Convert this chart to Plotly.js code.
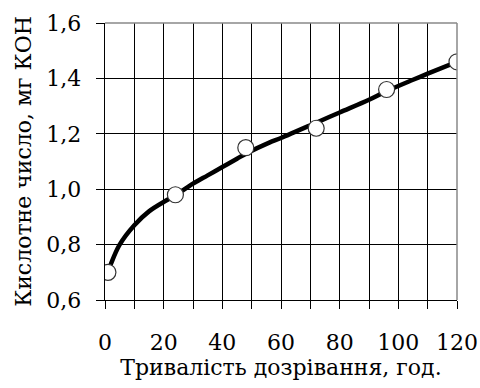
<!DOCTYPE html>
<html>
<head>
<meta charset="utf-8">
<script src="https://cdn.plot.ly/plotly-3.0.1.min.js"></script>
<style>html,body{margin:0;padding:0;background:#fff}#chart{width:480px;height:388px}</style>
</head>
<body>
<div id="chart"></div>
<script>
// measured points
var hours = [1, 24, 48, 72, 96, 120];
var acidNumber = [0.70, 0.98, 1.15, 1.22, 1.36, 1.46];
// fitted curve
var curveHours = [1, 2, 5, 10, 15, 21, 24, 30, 35, 40, 45, 48, 56, 60, 72, 80, 90, 96, 105, 110, 120];
var curveValues = [0.70, 0.73, 0.80, 0.87, 0.92, 0.96, 0.978, 1.02, 1.05, 1.08, 1.11, 1.128, 1.168, 1.185, 1.24, 1.277, 1.323, 1.354, 1.395, 1.417, 1.46];
var xTickVals = [0, 20, 40, 60, 80, 100, 120];
var yTickVals = [0.6, 0.8, 1.0, 1.2, 1.4, 1.6];
var xTitle = 'Тривалість дозрівання, год.';
var yTitle = 'Кислотне число, мг КОН';

var font = 'DejaVu Serif';
var traces = [
  {x: curveHours, y: curveValues, mode: 'lines', line: {color: '#000', width: 4.5, shape: 'spline', smoothing: 1}, hoverinfo: 'skip'},
  {x: hours, y: acidNumber, mode: 'markers', marker: {size: 16, color: '#fff', line: {color: '#333', width: 1.2}}}
];
var layout = {
  width: 480, height: 388,
  margin: {l: 105, r: 23, t: 23, b: 88},
  paper_bgcolor: '#fff', plot_bgcolor: '#fff',
  showlegend: false,
  separators: ', ',
  font: {family: font, color: '#000', size: 22},
  xaxis: {
    range: [0, 120], tickvals: xTickVals, ticktext: xTickVals.map(String),
    showgrid: true, gridcolor: '#000', gridwidth: 1,
    ticks: 'outside', ticklen: 8, tickcolor: '#000', tickwidth: 1,
    minor: {dtick: 10, tick0: 0, showgrid: true, gridcolor: '#000', gridwidth: 1, ticks: 'outside', ticklen: 8, tickcolor: '#000', tickwidth: 1},
    showline: true, linecolor: '#000', linewidth: 1.3,
    zeroline: false, ticklabelstandoff: 14,
    tickfont: {size: 22, family: font},
    title: {text: xTitle, font: {size: 22, family: font}, standoff: 4}
  },
  yaxis: {
    range: [0.6, 1.6], tickvals: yTickVals, tickformat: '.1f',
    showgrid: true, gridcolor: '#000', gridwidth: 1,
    ticks: 'outside', ticklen: 8, tickcolor: '#000', tickwidth: 1,
    showline: true, linecolor: '#000', linewidth: 1.3,
    zeroline: false, ticklabelstandoff: 10,
    tickfont: {size: 22, family: font},
    title: {text: yTitle, font: {size: 22, family: font}, standoff: 8}
  },
  shapes: [
    {type: 'line', xref: 'paper', yref: 'paper', x0: 0, x1: 1, y0: 1, y1: 1, line: {color: '#888', width: 1.5}},
    {type: 'line', xref: 'paper', yref: 'paper', x0: 1, x1: 1, y0: 0, y1: 1, line: {color: '#888', width: 1.5}}
  ]
};
Plotly.newPlot('chart', traces, layout, {displayModeBar: false, staticPlot: true});
</script>
</body>
</html>
